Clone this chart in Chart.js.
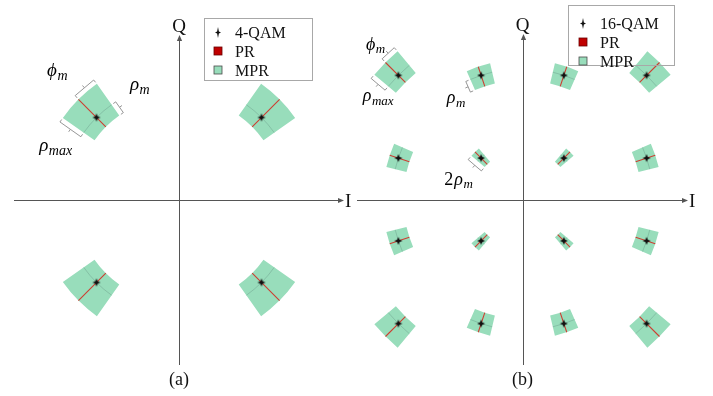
<!DOCTYPE html>
<html>
<head>
<meta charset="utf-8">
<script src="https://cdn.jsdelivr.net/npm/chart.js@4.4.1/dist/chart.umd.min.js"></script>
<style>
html,body{margin:0;padding:0;background:#fff;}
#wrap{position:relative;width:713px;height:396px;overflow:hidden;}
#wrap canvas{position:absolute;left:0;top:0;}
</style>
</head>
<body>
<div id="wrap">
<canvas id="ca" width="713" height="396"></canvas>
<canvas id="cb" width="713" height="396"></canvas>
</div>
<script>
// ---------------- DATA ----------------
// (a) 4-QAM symbols (I, Q) and their rotation regions
const qam4I = [-1, 1, -1, 1];
const qam4Q = [1, 1, -1, -1];
const qam4RhoIn  = [0.16, 0.16, 0.16, 0.16];   // inner radial extent  (rho_m)
const qam4RhoOut = [0.31, 0.31, 0.31, 0.31];   // outer radial extent  (rho_max)
const qam4Phi    = [0.17, 0.17, 0.17, 0.17];   // half angular width (rad), phi_m

// (b) 16-QAM symbols (I, Q) and their rotation regions
const qam16I = [-3, -1, 1, 3, -3, -1, 1, 3, -3, -1, 1, 3, -3, -1, 1, 3];
const qam16Q = [3, 3, 3, 3, 1, 1, 1, 1, -1, -1, -1, -1, -3, -3, -3, -3];
const qam16RhoIn  = [0.24, 0.28, 0.28, 0.24, 0.28, 0.21, 0.21, 0.28, 0.28, 0.21, 0.21, 0.28, 0.24, 0.28, 0.28, 0.24];
const qam16RhoOut = [0.44, 0.22, 0.22, 0.44, 0.22, 0.21, 0.21, 0.22, 0.22, 0.21, 0.21, 0.22, 0.44, 0.22, 0.22, 0.44];
const qam16Phi    = [0.085, 0.088, 0.088, 0.085, 0.088, 0.078, 0.078, 0.088, 0.088, 0.078, 0.078, 0.088, 0.085, 0.088, 0.088, 0.085];

// axis limits
const limA = 2;
const limB = 4;

// legend entries
const legendA = ['4-QAM', 'PR', 'MPR'];
const legendB = ['16-QAM', 'PR', 'MPR'];

// axis / panel labels
const axisLabelX = 'I';
const axisLabelY = 'Q';
const panelLabelA = '(a)';
const panelLabelB = '(b)';

// annotation brackets: symbol index, which edge, label
const notesA = [
  { sym: 0, kind: 'phi', side: -1, pre: '', main: 'ϕ', sub: 'm' },
  { sym: 0, kind: 'in',  side: -1, pre: '', main: 'ρ', sub: 'm' },
  { sym: 0, kind: 'out', side: 1,  pre: '', main: 'ρ', sub: 'max' }
];
const notesB = [
  { sym: 0, kind: 'phi',  side: -1, pre: '',  main: 'ϕ', sub: 'm' },
  { sym: 0, kind: 'out',  side: 1,  pre: '',  main: 'ρ', sub: 'max' },
  { sym: 1, kind: 'in',   side: 1,  pre: '',  main: 'ρ', sub: 'm' },
  { sym: 5, kind: 'full', side: 1,  pre: '2', main: 'ρ', sub: 'm' }
];

// ---------------- STYLE / LAYOUT ----------------
const GREEN = 'rgb(152,221,187)';
const RED_LINE = 'rgb(205,62,50)';
const RED_BOX = 'rgb(192,0,0)';
const AXIS = '#555';
const SERIF = '"Liberation Serif", "Times New Roman", serif';

// label offsets relative to bracket notch tip (layout only)
const noteLayoutA = [
  { dx: -15, dy: -9.5, align: 'right' },
  { dx: 8,   dy: -15.5, align: 'left' },
  { dx: -13, dy: 19,  align: 'center' }
];
const noteLayoutB = [
  { dx: -1, dy: -1.5, align: 'right' },
  { dx: 2,  dy: 14.5, align: 'center' },
  { dx: 0,  dy: 15,   align: 'right' },
  { dx: 0,  dy: 17,   align: 'right' }
];

function starCanvas(rx, ry, ri) {
  const w = Math.ceil(rx * 2) + 2, h = Math.ceil(ry * 2) + 2;
  const c = document.createElement('canvas');
  c.width = w; c.height = h;
  const g = c.getContext('2d');
  g.translate(w / 2, h / 2);
  g.beginPath();
  g.moveTo(0, -ry); g.lineTo(ri, -ri); g.lineTo(rx, 0); g.lineTo(ri, ri);
  g.lineTo(0, ry); g.lineTo(-ri, ri); g.lineTo(-rx, 0); g.lineTo(-ri, -ri);
  g.closePath();
  g.fillStyle = '#111';
  g.fill();
  return c;
}
const starData = starCanvas(4, 4, 1.2);
const starLegend = starCanvas(3.0, 5.4, 0.9);

function prPoints(I, Q, rin, rout) {
  const pts = [];
  for (let i = 0; i < I.length; i++) {
    const r = Math.hypot(I[i], Q[i]);
    const fi = (r - rin[i]) / r, fo = (r + rout[i]) / r;
    pts.push({ x: I[i] * fi, y: Q[i] * fi });
    pts.push({ x: I[i] * fo, y: Q[i] * fo });
    pts.push({ x: null, y: null });
  }
  return pts;
}
function symPoints(I, Q) { return I.map((v, i) => ({ x: v, y: Q[i] })); }

function geo(chart, p, i) {
  const xs = chart.scales.x, ys = chart.scales.y;
  const cx = xs.getPixelForValue(0), cy = ys.getPixelForValue(0);
  const k = xs.getPixelForValue(1) - cx;
  const r = Math.hypot(p.I[i], p.Q[i]);
  return { cx, cy, k, r: r * k, th: Math.atan2(p.Q[i], p.I[i]),
           rin: (r - p.rin[i]) * k, rout: (r + p.rout[i]) * k, phi: p.phi[i] };
}
function pt(g, R, a) { return [g.cx + R * Math.cos(a), g.cy - R * Math.sin(a)]; }

function drawAxes(chart, p) {
  const ctx = chart.ctx, xs = chart.scales.x, ys = chart.scales.y;
  const cx = xs.getPixelForValue(0), cy = ys.getPixelForValue(0);
  ctx.save();
  ctx.strokeStyle = AXIS; ctx.fillStyle = AXIS; ctx.lineWidth = 1;
  const yy = Math.round(cy) + 0.5, xx = Math.round(cx) + 0.5;
  ctx.beginPath();
  ctx.moveTo(xs.left, yy); ctx.lineTo(xs.right - 3, yy);
  ctx.moveTo(xx, ys.bottom); ctx.lineTo(xx, ys.top + 3);
  ctx.stroke();
  ctx.beginPath();
  ctx.moveTo(xs.right, yy); ctx.lineTo(xs.right - 6, yy - 2.6); ctx.lineTo(xs.right - 6, yy + 2.6); ctx.closePath();
  ctx.fill();
  ctx.beginPath();
  ctx.moveTo(xx, ys.top); ctx.lineTo(xx - 2.6, ys.top + 6); ctx.lineTo(xx + 2.6, ys.top + 6); ctx.closePath();
  ctx.fill();
  ctx.restore();
}

function drawRegions(chart, p) {
  const ctx = chart.ctx;
  ctx.save();
  for (let i = 0; i < p.I.length; i++) {
    const g = geo(chart, p, i);
    ctx.beginPath();
    ctx.arc(g.cx, g.cy, g.rout, -g.th - g.phi, -g.th + g.phi, false);
    ctx.arc(g.cx, g.cy, g.rin, -g.th + g.phi, -g.th - g.phi, true);
    ctx.closePath();
    ctx.fillStyle = GREEN;
    ctx.fill();
    ctx.beginPath();
    ctx.arc(g.cx, g.cy, g.r, -g.th - g.phi, -g.th + g.phi, false);
    ctx.strokeStyle = 'rgba(95,140,125,0.45)';
    ctx.lineWidth = 0.8;
    ctx.stroke();
  }
  ctx.restore();
}

function bracketGeom(g, note) {
  const s = note.side;
  if (note.kind === 'phi') {
    const P0 = pt(g, g.rout, g.th), P1 = pt(g, g.rout, g.th + s * g.phi);
    const am = g.th + s * g.phi / 2;
    return { P0, P1, n: [Math.cos(am), -Math.sin(am)] };
  }
  const a = g.th + s * g.phi;
  const n = [-s * Math.sin(a), -s * Math.cos(a)];
  if (note.kind === 'in') return { P0: pt(g, g.rin, a), P1: pt(g, g.r, a), n };
  if (note.kind === 'out') return { P0: pt(g, g.rout, a), P1: pt(g, g.r, a), n };
  return { P0: pt(g, g.rout, a), P1: pt(g, g.rin, a), n };
}

function mathLabel(ctx, x, y, pre, main, sub, align, S, s) {
  const fPre = S + 'px ' + SERIF, fMain = 'italic ' + S + 'px ' + SERIF, fSub = 'italic ' + s + 'px ' + SERIF;
  ctx.font = fPre; const w0 = pre ? ctx.measureText(pre).width + 1 : 0;
  ctx.font = fMain; const w1 = ctx.measureText(main).width;
  ctx.font = fSub; const w2 = ctx.measureText(sub).width;
  const W = w0 + w1 + 0.5 + w2;
  const x0 = align === 'left' ? x : (align === 'right' ? x - W : x - W / 2);
  ctx.textAlign = 'left'; ctx.textBaseline = 'alphabetic';
  ctx.fillStyle = '#000';
  if (pre) { ctx.font = fPre; ctx.fillText(pre, x0, y); }
  ctx.font = fMain; ctx.fillText(main, x0 + w0, y);
  ctx.font = fSub; ctx.fillText(sub, x0 + w0 + w1 + 0.5, y + S * 0.2);
}

function drawNotes(chart, p) {
  const ctx = chart.ctx;
  ctx.save();
  p.notes.forEach((note, j) => {
    const g = geo(chart, p, note.sym);
    const b = bracketGeom(g, note);
    const gap = 2, d = 5, t = 3;
    const q = (P, k) => [P[0] + b.n[0] * k, P[1] + b.n[1] * k];
    const M = [(b.P0[0] + b.P1[0]) / 2, (b.P0[1] + b.P1[1]) / 2];
    ctx.beginPath();
    ctx.moveTo(...q(b.P0, gap)); ctx.lineTo(...q(b.P0, d));
    ctx.lineTo(...q(M, d)); ctx.lineTo(...q(M, d + t)); ctx.moveTo(...q(M, d));
    ctx.lineTo(...q(b.P1, d)); ctx.lineTo(...q(b.P1, gap));
    ctx.strokeStyle = '#8a8a8a'; ctx.lineWidth = 0.9; ctx.lineJoin = 'round';
    ctx.stroke();
    const tip = q(M, d + t);
    const L = p.noteLayout[j];
    mathLabel(ctx, tip[0] + L.dx, tip[1] + L.dy, note.pre, note.main, note.sub, L.align, p.mathSize, p.subSize);
  });
  ctx.restore();
}

function drawLegend(chart, p) {
  const ctx = chart.ctx, L = p.legend;
  ctx.save();
  ctx.strokeStyle = '#a8a8a8'; ctx.lineWidth = 1;
  ctx.strokeRect(L.x + 0.5, L.y + 0.5, L.w, L.h);
  ctx.font = '16px ' + SERIF; ctx.textAlign = 'left'; ctx.textBaseline = 'alphabetic';
  p.legendLabels.forEach((lab, i) => {
    const cy = L.y + L.first + i * L.row;
    const mx = L.x + L.mx;
    if (i === 0) {
      ctx.drawImage(starLegend, Math.round(mx - starLegend.width / 2), Math.round(cy - starLegend.height / 2));
    } else {
      ctx.fillStyle = i === 1 ? RED_BOX : GREEN;
      ctx.fillRect(mx - 4, cy - 4, 8, 8);
      ctx.strokeStyle = i === 1 ? '#6a0000' : '#4a4a4a';
      ctx.lineWidth = 0.8;
      ctx.strokeRect(mx - 4, cy - 4, 8, 8);
    }
    ctx.fillStyle = '#111';
    ctx.fillText(lab, L.x + L.tx, cy + 5.5);
  });
  ctx.restore();
}

function drawTexts(chart, p) {
  const ctx = chart.ctx, xs = chart.scales.x, ys = chart.scales.y;
  const cx = xs.getPixelForValue(0), cy = ys.getPixelForValue(0);
  ctx.save();
  ctx.fillStyle = '#111';
  ctx.font = '19px ' + SERIF; ctx.textBaseline = 'alphabetic';
  ctx.textAlign = 'center'; ctx.fillText(axisLabelY, cx, ys.top - 3);
  ctx.textAlign = 'left'; ctx.fillText(axisLabelX, xs.right + 1, cy + 7);
  ctx.font = '18px ' + SERIF; ctx.textAlign = 'center';
  ctx.fillText(p.panelLabel, cx, 384.5);
  ctx.restore();
}

function panelPlugin(p) {
  return {
    id: 'panel' + p.name,
    beforeDatasetsDraw(chart) { drawAxes(chart, p); drawRegions(chart, p); },
    afterDatasetsDraw(chart) { drawNotes(chart, p); },
    afterDraw(chart) { drawLegend(chart, p); drawTexts(chart, p); }
  };
}

function makeChart(id, p) {
  return new Chart(document.getElementById(id), {
    type: 'scatter',
    data: {
      datasets: [
        { label: p.legendLabels[0], data: symPoints(p.I, p.Q), pointStyle: starData, pointRadius: 4, order: 0 },
        { label: 'PR', data: prPoints(p.I, p.Q, p.rin, p.rout), showLine: true, spanGaps: false,
          borderColor: RED_LINE, borderWidth: 1.1, pointRadius: 0, order: 1 }
      ]
    },
    options: {
      responsive: false, animation: false, devicePixelRatio: 1, events: [],
      layout: { padding: p.padding },
      scales: {
        x: { type: 'linear', min: -p.lim, max: p.lim, display: false },
        y: { type: 'linear', min: -p.lim, max: p.lim, display: false }
      },
      plugins: { legend: { display: false }, tooltip: { enabled: false }, title: { display: false } }
    },
    plugins: [panelPlugin(p)]
  });
}

makeChart('ca', {
  name: 'A', I: qam4I, Q: qam4Q, rin: qam4RhoIn, rout: qam4RhoOut, phi: qam4Phi, lim: limA,
  padding: { left: 14, right: 369, top: 35, bottom: 31 },
  notes: notesA, noteLayout: noteLayoutA, mathSize: 19, subSize: 14,
  legendLabels: legendA, legend: { x: 204, y: 18, w: 108, h: 62, first: 14, row: 19, mx: 14, tx: 31 },
  panelLabel: panelLabelA
});
makeChart('cb', {
  name: 'B', I: qam16I, Q: qam16Q, rin: qam16RhoIn, rout: qam16RhoOut, phi: qam16Phi, lim: limB,
  padding: { left: 357, right: 25, top: 34, bottom: 31 },
  notes: notesB, noteLayout: noteLayoutB, mathSize: 18, subSize: 13,
  legendLabels: legendB, legend: { x: 568, y: 5, w: 106, h: 60, first: 18, row: 19, mx: 15, tx: 32 },
  panelLabel: panelLabelB
});
</script>
</body>
</html>
